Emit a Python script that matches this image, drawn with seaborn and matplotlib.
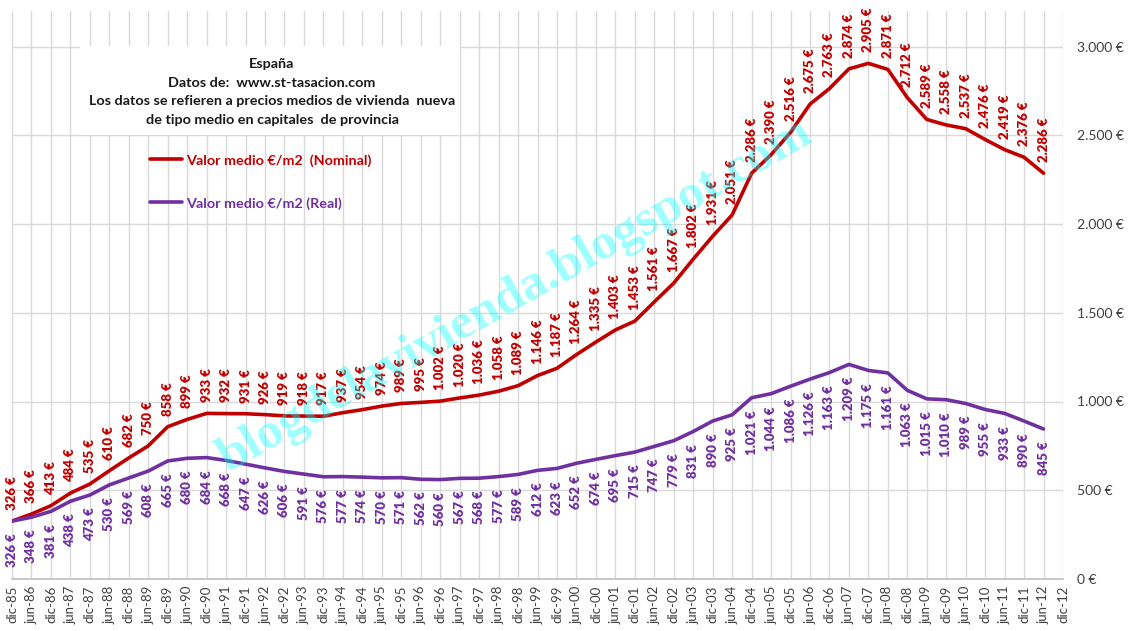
import numpy as np
import pandas as pd
import matplotlib.pyplot as plt
import seaborn as sns

# Valor medio €/m2, datos semestrales dic-85 .. jun-12 (st-tasacion)
periodos = ['dic-85', 'jun-86', 'dic-86', 'jun-87', 'dic-87', 'jun-88', 'dic-88', 'jun-89', 'dic-89',
            'jun-90', 'dic-90', 'jun-91', 'dic-91', 'jun-92', 'dic-92', 'jun-93', 'dic-93', 'jun-94',
            'dic-94', 'jun-95', 'dic-95', 'jun-96', 'dic-96', 'jun-97', 'dic-97', 'jun-98', 'dic-98',
            'jun-99', 'dic-99', 'jun-00', 'dic-00', 'jun-01', 'dic-01', 'jun-02', 'dic-02', 'jun-03',
            'dic-03', 'jun-04', 'dic-04', 'jun-05', 'dic-05', 'jun-06', 'dic-06', 'jun-07', 'dic-07',
            'jun-08', 'dic-08', 'jun-09', 'dic-09', 'jun-10', 'dic-10', 'jun-11', 'dic-11', 'jun-12',
            'dic-12']
nominal = [326, 366, 413, 484, 535, 610, 682, 750, 858, 899, 933, 932, 931, 926, 919, 918, 917, 937,
           954, 974, 989, 995, 1002, 1020, 1036, 1058, 1089, 1146, 1187, 1264, 1335, 1403, 1453, 1561,
           1667, 1802, 1931, 2051, 2286, 2390, 2516, 2675, 2763, 2874, 2905, 2871, 2712, 2589, 2558,
           2537, 2476, 2419, 2376, 2286]
real = [326, 348, 381, 438, 473, 530, 569, 608, 665, 680, 684, 668, 647, 626, 606, 591, 576, 577,
        574, 570, 571, 562, 560, 567, 568, 577, 589, 612, 623, 652, 674, 695, 715, 747, 779, 831,
        890, 925, 1021, 1044, 1086, 1126, 1163, 1209, 1175, 1161, 1063, 1015, 1010, 989, 955, 933,
        890, 845]
y_ticks = [0, 500, 1000, 1500, 2000, 2500, 3000]

rojo = '#C00000'
morado = '#7030A0'

sns.set_style('white')
plt.rcParams['font.family'] = ['Lato', 'DejaVu Sans']

df = pd.DataFrame({'pos': np.arange(len(nominal)), 'nominal': nominal, 'real': real})


def euros(v):
    return f'{v:,}'.replace(',', '.') + ' €'


fig = plt.figure(figsize=(11.33, 6.31), dpi=100)
ax = fig.add_axes([12/1133, 1-579/631, 1051/1133, 568/631])

sns.lineplot(data=df, x='pos', y='nominal', ax=ax, color=rojo, lw=2.6,
             label='Valor medio €/m2  (Nominal)', zorder=3)
sns.lineplot(data=df, x='pos', y='real', ax=ax, color=morado, lw=2.6,
             label='Valor medio €/m2 (Real)', zorder=3)

# etiquetas de datos
for i, v in enumerate(nominal):
    ax.annotate(euros(v), (i, v), xytext=(0, 8), textcoords='offset points', rotation=90,
                ha='center', va='bottom', color=rojo, fontsize=9.5, fontweight='heavy',
                annotation_clip=False, zorder=4)
for i, v in enumerate(real):
    ax.annotate(euros(v), (i, v), xytext=(0, -9), textcoords='offset points', rotation=90,
                ha='center', va='top', color=morado, fontsize=9.5, fontweight='heavy',
                annotation_clip=False, zorder=4)

ax.set_xlim(0, len(periodos)-1)
ax.set_ylim(0, 3200)
ax.set_xticks(range(len(periodos)))
ax.set_xticklabels(periodos, rotation=90, fontsize=9.5, color='#404040')
ax.yaxis.tick_right()
ax.set_yticks(y_ticks)
ax.set_yticklabels([euros(v) for v in y_ticks], fontsize=10, color='#404040')
ax.tick_params(axis='both', length=0, pad=5)
ax.tick_params(axis='y', pad=10)
ax.set_xlabel(None)
ax.set_ylabel(None)
ax.grid(True, color='#d9d9d9', lw=1)
ax.set_axisbelow(True)
for s in ['top', 'left', 'right']:
    ax.spines[s].set_visible(False)
ax.spines['bottom'].set_color('#bfbfbf')
ax.spines['bottom'].set_linewidth(1.2)

# caja de titulo
caja = plt.Rectangle((80/1133, 1-135/631), 380/1133, 89/631, transform=fig.transFigure,
                     facecolor='white', edgecolor='none', zorder=1.5)
ax.add_patch(caja)
fig.text(272/1133, 1-92/631,
         'España\nDatos de:  www.st-tasacion.com\n'
         'Los datos se refieren a precios medios de vivienda  nueva\n'
         'de tipo medio en capitales  de provincia',
         ha='center', va='center', fontsize=10.4, fontweight='bold', color='#1a1a1a',
         linespacing=1.65)

leg = ax.legend(loc='upper left', bbox_to_anchor=(150/1133, 1-154/631), bbox_transform=fig.transFigure,
                frameon=False, fontsize=10.4, handlelength=2.2, handletextpad=0.3, labelspacing=2.1,
                borderpad=0, borderaxespad=0)
for t, c in zip(leg.get_texts(), [rojo, morado]):
    t.set_color(c)
    t.set_fontweight('bold')

# marca de agua
fig.text(515/1133, 1-296/631, 'blogdelavivienda.blogspot.com', rotation=29.5,
         ha='center', va='center', fontsize=37, fontweight='bold', family='Liberation Serif',
         color='#00FFFF', alpha=0.38, zorder=0.8)

plt.savefig('out.png', dpi=100)
